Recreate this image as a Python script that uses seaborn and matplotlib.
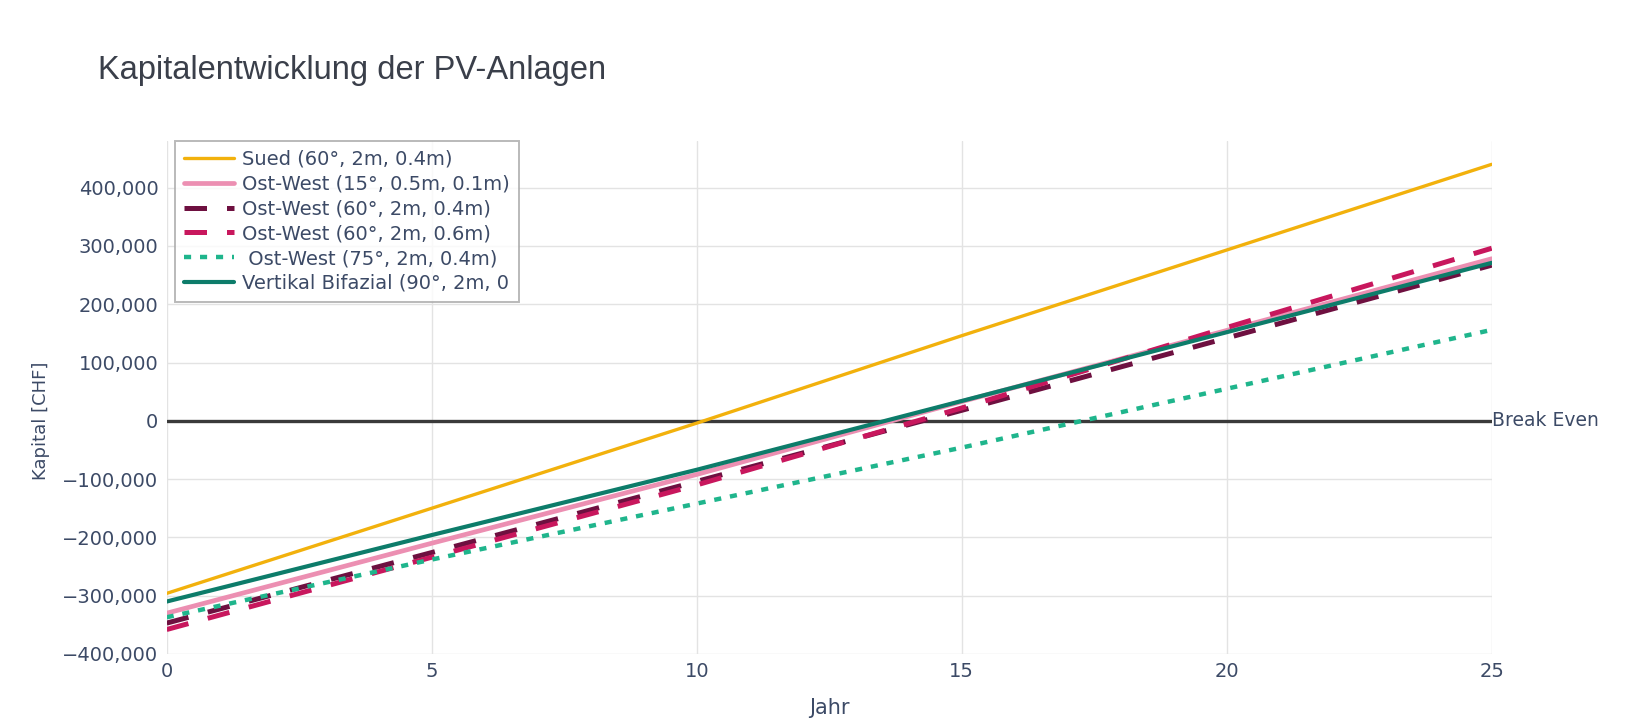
import pandas as pd
import seaborn as sns
import matplotlib.pyplot as plt
from matplotlib.ticker import FuncFormatter

# Werte (Kapital in CHF)
jahre = [0, 5, 10, 15, 20, 25]
sued_60 = [-296000, -150000, -4000, 146000, 293000, 440000]
ow_15 = [-330000, -210000, -92000, 33000, 155000, 278000]
ow_60_04 = [-347000, -226000, -104000, 18000, 142000, 267000]
ow_60_06 = [-358000, -234000, -110000, 22000, 160000, 296000]
ow_75 = [-337000, -238000, -142000, -46000, 55000, 156000]
vert_bif = [-310000, -196000, -84000, 34000, 152000, 271000]

labels = [
    "Sued (60°, 2m, 0.4m)",
    "Ost-West (15°, 0.5m, 0.1m)",
    "Ost-West (60°, 2m, 0.4m)",
    "Ost-West (60°, 2m, 0.6m)",
    " Ost-West (75°, 2m, 0.4m)",
    "Vertikal Bifazial (90°, 2m, 0",
]
serien = [sued_60, ow_15, ow_60_04, ow_60_06, ow_75, vert_bif]

farben = ["#f2b10c", "#ec8fb2", "#6e1040", "#c8175d", "#1fb58c", "#0d7c6a"]
breiten = [2.4, 3.4, 3.6, 3.6, 3.2, 3.0]
striche = [None, None, (4.5, 4.0), (4.5, 4.0), (1.6, 2.0), None]

sns.set_theme(style="whitegrid")
plt.rcParams['font.family'] = ['DejaVu Sans']

fig = plt.figure(figsize=(16.36, 7.22), dpi=100)
ax = fig.add_axes([0.1019, 0.0942, 0.8099, 0.7105])

for werte, label, farbe, lw, dash in zip(serien, labels, farben, breiten, striche):
    df = pd.DataFrame({"Jahr": jahre, "Kapital": werte})
    sns.lineplot(data=df, x="Jahr", y="Kapital", ax=ax, color=farbe,
                 linewidth=lw, label=label)
    if dash is not None:
        ax.lines[-1].set_dashes(dash)

# Break Even Linie
ax.axhline(0, color="#3a3a3a", linewidth=2.4, zorder=1.5)
ax.text(25, 0, "Break Even", ha="left", va="center", fontsize=13.5,
        color="#3c4a66", clip_on=False)

ax.set_xlim(0, 25)
ax.set_ylim(-400000, 480000)
ax.set_xticks([0, 5, 10, 15, 20, 25])
ax.set_yticks(range(-400000, 400001, 100000))
ax.yaxis.set_major_formatter(FuncFormatter(lambda v, _: f"{v:,.0f}".replace("-", "\u2212")))
ax.tick_params(axis="both", labelsize=14, labelcolor="#3c4a66", length=0, pad=6)
ax.grid(color="#e3e3e3", linewidth=1)
for s in ax.spines.values():
    s.set_visible(False)

ax.set_xlabel("Jahr", fontsize=15, color="#3c4a66")
ax.set_ylabel("Kapital [CHF]", fontsize=13, color="#3c4a66")
ax.yaxis.set_label_coords(-0.088, 0.455)
ax.xaxis.set_label_coords(0.5, -0.085)

leg = ax.legend(loc="upper left", bbox_to_anchor=(0.0063, 1.0), fontsize=14,
                frameon=True, handlelength=2.6, labelspacing=0.3,
                borderpad=0.45, handletextpad=0.4, borderaxespad=0,
                fancybox=False)
leg.get_frame().set_edgecolor("#a8a8a8")
leg.get_frame().set_linewidth(1.4)
for t in leg.get_texts():
    t.set_color("#3c4a66")

fig.text(0.06, 0.902, "Kapitalentwicklung der PV-Anlagen", fontsize=23.5,
         family=["Liberation Sans", "DejaVu Sans"], color="#3a3f4a", va="center")

plt.savefig("out.png", dpi=100)
